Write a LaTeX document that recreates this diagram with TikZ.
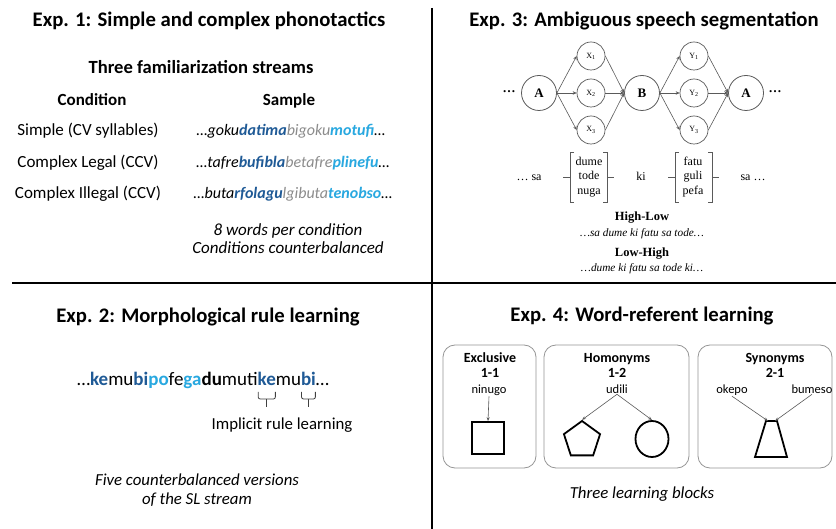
\documentclass[tikz,border=0pt]{standalone}
\usepackage{fontspec}
\setmainfont{Carlito}
\newfontfamily\tnr{Liberation Serif}
\usetikzlibrary{shapes.geometric,arrows.meta,calc}
\definecolor{dblue}{RGB}{31,90,150}
\definecolor{lblue}{RGB}{40,168,224}
\definecolor{wgray}{RGB}{140,140,140}
\definecolor{boxgray}{RGB}{150,150,150}
\definecolor{lnk}{RGB}{90,90,90}
\newcommand\fs[1]{\fontsize{#1}{#1}\selectfont}
\begin{document}
\begin{tikzpicture}[x=1pt,y=-1pt,
  ttl/.style={font=\bfseries\fs{20.7}, anchor=base, inner sep=0pt},
  sub/.style={font=\bfseries\fs{18.6}, anchor=base, inner sep=0pt},
  body/.style={font=\fs{17}, anchor=base, inner sep=0pt},
  ital/.style={font=\itshape\fs{17}, anchor=base, inner sep=0pt},
  seg/.style={font=\fs{19}, anchor=base west, inner sep=0pt, outer sep=0pt},
  bseg/.style={seg, font=\bfseries\fs{19}},
  bcirc/.style={circle, draw=lnk, line width=0.8pt, minimum size=35pt, inner sep=0pt, font=\tnr\bfseries\fs{13}},
  scirc/.style={circle, draw=lnk, line width=0.7pt, minimum size=28pt, inner sep=0pt, font=\tnr\fs{8}},
  dots/.style={font=\tnr\bfseries\fs{13}, inner sep=0pt},
  arr/.style={draw=lnk, line width=0.6pt, -{Stealth[length=4pt,width=3.5pt]}},
  tword/.style={font=\tnr\fs{12}, anchor=base, inner sep=0pt},
  brk/.style={draw=lnk, line width=0.7pt},
  brc/.style={draw=black!75, line width=0.8pt},
  blk/.style={draw=boxgray, line width=0.8pt, rounded corners=12pt},
  btitle/.style={font=\bfseries\fs{14}, anchor=base, inner sep=0pt},
  bword/.style={font=\fs{12.5}, anchor=base, inner sep=0pt},
  shp/.style={draw=black, line width=1.8pt, inner sep=0pt},
  warr/.style={draw=lnk, line width=0.6pt, -{Stealth[length=4pt,width=3pt]}}
]
\useasboundingbox (0,0) rectangle (836,529);
\fill[white] (0,0) rectangle (836,529);

% dividers
\draw[line width=1.6pt] (432,8) -- (432,529);
\draw[line width=1.6pt] (12,283) -- (836,283);

% ---------- Exp 1 ----------
\node[ttl] (t1) at (209,27) {Exp. 1: Simple and complex phonotactics};
\node[sub] (s1) at (201,74) {Three familiarization streams};
\node[body, font=\bfseries\fs{17}] (c1) at (92,106) {Condition};
\node[body, font=\bfseries\fs{17}] (c2) at (289,106) {Sample};
\node[body] (r1) at (88,136) {Simple (CV syllables)};
\node[body] (r2) at (88,168) {Complex Legal (CCV)};
\node[body] (r3) at (88,199) {Complex Illegal (CCV)};
\node[ital, font=\itshape\fs{16}] (p1) at (291,136) {…goku\textbf{\color{dblue}datima}\textcolor{wgray}{bigoku}\textbf{\color{lblue}motufi}…};
\node[ital, font=\itshape\fs{16}] (p2) at (293,168) {…tafre\textbf{\color{dblue}bufibla}\textcolor{wgray}{betafre}\textbf{\color{lblue}plinefu}…};
\node[ital, font=\itshape\fs{16}] (p3) at (293,199) {…buta\textbf{\color{dblue}rfolagu}\textcolor{wgray}{lgibuta}\textbf{\color{lblue}tenobso}…};
\node[ital] (n1) at (288,236) {8 words per condition};
\node[ital] (n2) at (288,254) {Conditions counterbalanced};

% ---------- Exp 3 ----------
\node[ttl] (t3) at (644,27) {Exp. 3: Ambiguous speech segmentation};
\node[bcirc] (A1) at (539,93) {A};
\node[scirc] (X1) at (591,56) {X\textsubscript{1}};
\node[scirc] (X2) at (591,93) {X\textsubscript{2}};
\node[scirc] (X3) at (591,130) {X\textsubscript{3}};
\node[bcirc] (B) at (642,93) {B};
\node[scirc] (Y1) at (694,56) {Y\textsubscript{1}};
\node[scirc] (Y2) at (694,93) {Y\textsubscript{2}};
\node[scirc] (Y3) at (694,130) {Y\textsubscript{3}};
\node[bcirc] (A2) at (746,93) {A};
\node[dots] (d1) at (509,92) {…};
\node[dots] (d2) at (775,92) {…};
\foreach \x in {X1,X2,X3}{
  \draw[arr] (A1.east) -- (\x.west);
  \draw[arr] (\x.east) -- (B.west);
}
\foreach \y in {Y1,Y2,Y3}{
  \draw[arr] (B.east) -- (\y.west);
  \draw[arr] (\y.east) -- (A2.west);
}
\node[tword] (sa1) at (529,181) {… sa};
\node[tword, align=center, font=\tnr\fontsize{12}{14.5}\selectfont, anchor=center] (w1) at (589,177) {dume\\tode\\nuga};
\node[tword] (ki) at (641,181) {ki};
\node[tword, align=center, font=\tnr\fontsize{12}{14.5}\selectfont, anchor=center] (w2) at (693,177) {fatu\\guli\\pefa};
\node[tword] (sa2) at (753,181) {sa …};
\draw[brk] (574,152) -- (570,152) -- (570,202) -- (574,202);
\draw[brk] (563,177) -- (570,177);
\draw[brk] (603,152) -- (607,152) -- (607,202) -- (603,202);
\draw[brk] (607,177) -- (614,177);
\draw[brk] (679,152) -- (675,152) -- (675,202) -- (679,202);
\draw[brk] (668,177) -- (675,177);
\draw[brk] (708,152) -- (712,152) -- (712,202) -- (708,202);
\draw[brk] (712,177) -- (719,177);
\node[tword, font=\tnr\bfseries\fs{12.5}] (hl) at (642,221) {High-Low};
\node[tword, font=\tnr\itshape\fs{11.3}] (hlx) at (642,237) {…sa dume ki fatu sa tode…};
\node[tword, font=\tnr\bfseries\fs{12.5}] (lh) at (642,257) {Low-High};
\node[tword, font=\tnr\itshape\fs{11.3}] (lhx) at (642,272) {…dume ki fatu sa tode ki…};

% ---------- Exp 2 ----------
\node[ttl] (t2) at (208,323) {Exp. 2: Morphological rule learning};
\node[seg] (e0) at (77,386) {…};
\node[bseg, text=dblue] (e1) at (e0.base east) {ke};
\node[seg] (e2) at (e1.base east) {mu};
\node[bseg, text=dblue] (e3) at (e2.base east) {bi};
\node[bseg, text=lblue] (e4) at (e3.base east) {po};
\node[seg] (e5) at (e4.base east) {fe};
\node[bseg, text=lblue] (e6) at (e5.base east) {ga};
\node[bseg] (e7) at (e6.base east) {du};
\node[seg] (e8) at (e7.base east) {muti};
\node[bseg, text=dblue] (e9) at (e8.base east) {ke};
\node[seg] (e10) at (e9.base east) {mu};
\node[bseg, text=dblue] (e11) at (e10.base east) {bi};
\node[seg] (e12) at (e11.base east) {…};
\foreach \n in {e9,e11}{
  \path ([xshift=0.5pt]\n.base west) coordinate (bl)
        ([xshift=-0.5pt]\n.base east) coordinate (br)
        ($(bl)!0.5!(br)$) coordinate (bm);
  \draw[brc, rounded corners=2pt] ($(bl)+(0,6)$) -- ($(bl)+(0,13)$) -- ($(br)+(0,13)$) -- ($(br)+(0,6)$);
  \draw[brc] ($(bm)+(0,13)$) -- ($(bm)+(0,21)$);
}
\node[body, font=\fs{16.8}] (irl) at (282,430) {Implicit rule learning};
\node[ital, font=\itshape\fs{16.8}] (f1) at (197,485) {Five counterbalanced versions};
\node[ital, font=\itshape\fs{16.8}] (f2) at (197,504) {of the SL stream};

% ---------- Exp 4 ----------
\node[ttl] (t4) at (642,322) {Exp. 4: Word-referent learning};
\draw[blk] (443,345) rectangle (536,468);
\draw[blk] (544,345) rectangle (689,468);
\draw[blk] (698,345) rectangle (832,468);
\node[btitle] (b1a) at (490,363) {Exclusive};
\node[btitle] (b1b) at (490,378) {1-1};
\node[bword] (nin) at (489,394) {ninugo};
\node[shp, rectangle, minimum width=32pt, minimum height=32pt] (sq) at (488,438) {};
\draw[warr] (nin.south) -- (sq.north);

\node[btitle] (b2a) at (617,363) {Homonyms};
\node[btitle] (b2b) at (617,378) {1-2};
\node[bword] (udi) at (617,394) {udili};
\node[shp, regular polygon, regular polygon sides=5, minimum size=38pt] (pent) at (582,440) {};
\node[shp, ellipse, minimum width=33pt, minimum height=36pt] (circ) at (652,439) {};
\draw[warr] (udi.south) -- (pent.corner 1);
\draw[warr] (udi.south) -- (circ.north);

\node[btitle] (b3a) at (775,363) {Synonyms};
\node[btitle] (b3b) at (775,378) {2-1};
\node[bword] (oke) at (732,394) {okepo};
\node[bword] (bum) at (812,394) {bumeso};
\coordinate (trL) at (766,421);
\coordinate (trR) at (777,421);
\draw[shp, line join=miter] (trL) -- (trR) -- (787,457) -- (755,457) -- cycle;
\draw[warr] (oke.south) -- ([xshift=2pt]trL);
\draw[warr] (bum.south) -- ([xshift=-2pt]trR);

\node[ital, font=\itshape\fs{16.8}] (tlb) at (642,498) {Three learning blocks};
\end{tikzpicture}
\end{document}
